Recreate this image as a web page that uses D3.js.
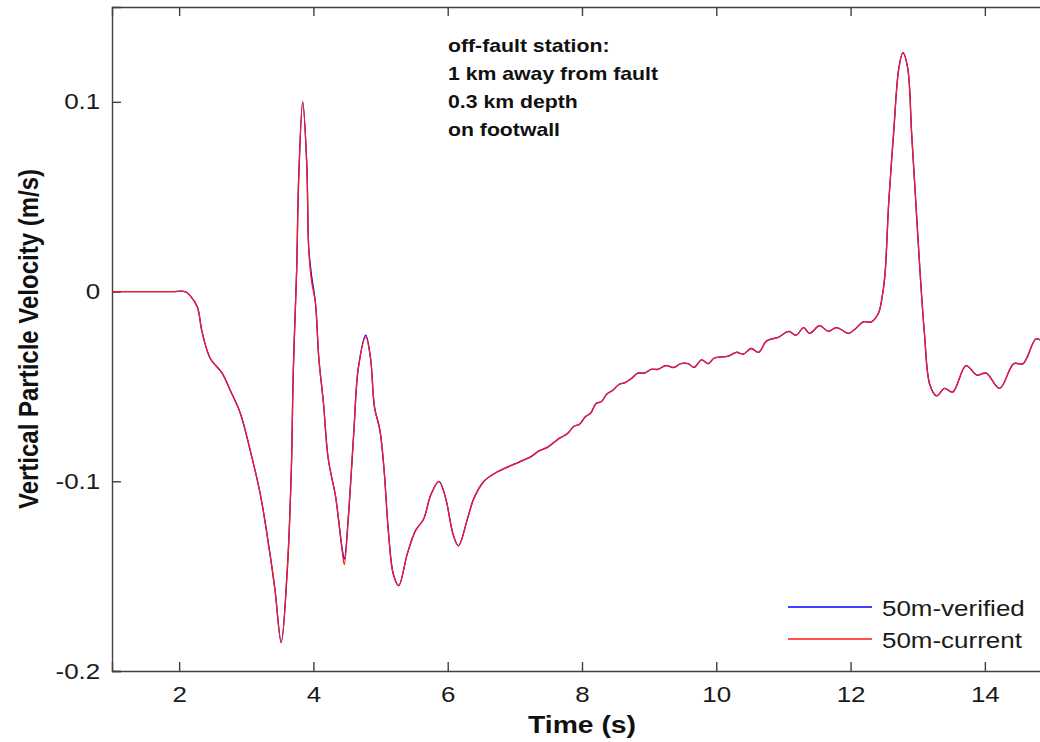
<!DOCTYPE html>
<html>
<head>
<meta charset="utf-8">
<script src="https://cdn.jsdelivr.net/npm/d3@7"></script>
<style>
  body { margin: 0; background: #fff; }
  svg { display: block; font-family: "Liberation Sans", Arial, sans-serif; }
</style>
</head>
<body>
<svg id="chart" width="1040" height="742"></svg>
<script>
// data
var times = [
  1.0, 1.5, 1.9, 2.09, 2.16, 2.27, 2.34, 2.46, 2.64, 2.76,
  2.91, 3.06, 3.21, 3.36, 3.43, 3.52, 3.61, 3.67, 3.70, 3.75,
  3.78, 3.84, 3.90, 3.93, 3.97, 4.03, 4.08, 4.15, 4.22, 4.33,
  4.37, 4.43, 4.46, 4.52, 4.60, 4.67, 4.78, 4.85, 4.91, 4.99,
  5.05, 5.12, 5.19, 5.27, 5.40, 5.52, 5.64, 5.75, 5.87, 5.97,
  6.08, 6.16, 6.30, 6.39, 6.54, 6.69, 6.99, 7.12, 7.24, 7.36,
  7.49, 7.60, 7.68, 7.78, 7.88, 7.96, 8.05, 8.13, 8.21, 8.29,
  8.37, 8.46, 8.55, 8.64, 8.73, 8.83, 8.93, 9.03, 9.13, 9.25,
  9.37, 9.47, 9.58, 9.67, 9.78, 9.88, 9.97, 10.18, 10.30, 10.40,
  10.52, 10.63, 10.75, 10.93, 11.08, 11.19, 11.30, 11.39, 11.54, 11.67,
  11.79, 11.97, 12.06, 12.19, 12.31, 12.42, 12.46, 12.51, 12.57, 12.64,
  12.72, 12.78, 12.85, 12.91, 12.97, 13.03, 13.10, 13.18, 13.28, 13.40,
  13.52, 13.72, 13.88, 14.02, 14.22, 14.43, 14.57, 14.76, 14.85
];

var verifiedVel = [
  0, 0, 0, 0, -0.002, -0.008, -0.021, -0.035, -0.043, -0.052,
  -0.064, -0.084, -0.107, -0.140, -0.158, -0.185, -0.147, -0.095, -0.042, 0.011,
  0.059, 0.100, 0.068, 0.023, 0.009, -0.006, -0.035, -0.059, -0.088, -0.108,
  -0.119, -0.136, -0.141, -0.119, -0.075, -0.040, -0.023, -0.035, -0.061, -0.073,
  -0.093, -0.128, -0.149, -0.155, -0.138, -0.126, -0.120, -0.107, -0.100, -0.109,
  -0.128, -0.134, -0.119, -0.109, -0.100, -0.096, -0.091, -0.089, -0.087, -0.084,
  -0.082, -0.079, -0.077, -0.075, -0.071, -0.070, -0.066, -0.064, -0.059, -0.058,
  -0.054, -0.052, -0.049, -0.048, -0.046, -0.043, -0.043, -0.041, -0.041, -0.039,
  -0.040, -0.038, -0.038, -0.040, -0.036, -0.038, -0.035, -0.034, -0.032, -0.033,
  -0.030, -0.032, -0.026, -0.024, -0.021, -0.023, -0.019, -0.022, -0.018, -0.021,
  -0.019, -0.022, -0.020, -0.016, -0.016, -0.011, -0.005, 0.008, 0.048, 0.083,
  0.118, 0.126, 0.118, 0.083, 0.048, 0.013, -0.022, -0.049, -0.055, -0.051,
  -0.053, -0.039, -0.044, -0.043, -0.051, -0.038, -0.038, -0.025, -0.026
];

var currentVel = [
  0, 0, 0, 0, -0.002, -0.008, -0.021, -0.035, -0.043, -0.052,
  -0.064, -0.084, -0.107, -0.140, -0.158, -0.185, -0.147, -0.095, -0.042, 0.011,
  0.059, 0.100, 0.068, 0.023, 0.006, -0.006, -0.035, -0.059, -0.088, -0.108,
  -0.119, -0.137, -0.144, -0.119, -0.075, -0.040, -0.024, -0.035, -0.061, -0.073,
  -0.093, -0.128, -0.149, -0.155, -0.138, -0.126, -0.120, -0.107, -0.100, -0.109,
  -0.128, -0.134, -0.119, -0.109, -0.100, -0.096, -0.091, -0.089, -0.087, -0.084,
  -0.082, -0.079, -0.077, -0.075, -0.071, -0.070, -0.066, -0.064, -0.059, -0.058,
  -0.054, -0.052, -0.049, -0.048, -0.046, -0.043, -0.043, -0.041, -0.041, -0.039,
  -0.040, -0.038, -0.038, -0.040, -0.036, -0.038, -0.035, -0.034, -0.032, -0.033,
  -0.030, -0.032, -0.026, -0.024, -0.021, -0.023, -0.019, -0.022, -0.018, -0.021,
  -0.019, -0.022, -0.020, -0.016, -0.016, -0.011, -0.005, 0.008, 0.048, 0.083,
  0.118, 0.126, 0.118, 0.083, 0.048, 0.013, -0.022, -0.049, -0.055, -0.051,
  -0.053, -0.039, -0.044, -0.043, -0.051, -0.038, -0.038, -0.025, -0.026
];

var xTicks = [2, 4, 6, 8, 10, 12, 14];
var yTicks = [-0.2, -0.1, 0, 0.1];
var yTickLabels = ["-0.2", "-0.1", "0", "0.1"];
var seriesNames = ["50m-verified", "50m-current"];
var seriesColors = ["#0000ff", "#ff1a1a"];
var noteLines = ["off-fault station:", "1 km away from fault", "0.3 km depth", "on footwall"];

var svg = d3.select("#chart");
var margin = {left: 112, top: 7};
var plotW = 940, plotH = 664;
var stretch = 1.18;   // the source picture is a bit wider than tall

var x = d3.scaleLinear().domain([1, 15]).range([0, plotW]);
var y = d3.scaleLinear().domain([-0.2, 0.15]).range([plotH, 0]);

var g = svg.append("g").attr("transform", "translate(" + margin.left + "," + margin.top + ")");

g.append("clipPath").attr("id", "clip")
  .append("rect").attr("width", plotW).attr("height", plotH);

// axes
var axisColor = "#404040";

var xAxisBottom = g.append("g").attr("transform", "translate(0," + plotH + ")")
  .call(d3.axisBottom(x).tickValues(xTicks).tickSize(-9).tickPadding(15).tickFormat(d3.format("d")));
var xAxisTop = g.append("g")
  .call(d3.axisTop(x).tickValues(xTicks).tickSize(-9).tickFormat(""));
var yAxisLeft = g.append("g")
  .call(d3.axisLeft(y).tickValues(yTicks).tickSize(-9).tickPadding(10)
    .tickFormat(function(d, i) { return yTickLabels[i]; }));

[xAxisBottom, xAxisTop, yAxisLeft].forEach(function(a) {
  a.select(".domain").attr("stroke", axisColor).attr("stroke-width", 1.4);
  a.selectAll(".tick line").attr("stroke", axisColor).attr("stroke-width", 1.4);
  a.selectAll(".tick text")
    .attr("fill", "#1a1a1a")
    .style("font-size", "22px")
    .attr("transform", "scale(" + stretch + ",1)");
});

// lines
var line = d3.line()
  .x(function(d) { return x(d[0]); })
  .y(function(d) { return y(d[1]); })
  .curve(d3.curveCatmullRom.alpha(0.5));

var series = [verifiedVel, currentVel];
series.forEach(function(vals, i) {
  g.append("path")
    .datum(times.map(function(t, j) { return [t, vals[j]]; }))
    .attr("clip-path", "url(#clip)")
    .attr("fill", "none")
    .attr("stroke", seriesColors[i])
    .attr("stroke-width", 1.3)
    .attr("d", line);
});

// annotation
noteLines.forEach(function(s, i) {
  svg.append("text")
    .attr("transform", "translate(448," + (52 + i * 28) + ") scale(" + stretch + ",1)")
    .style("font-size", "18px")
    .style("font-weight", "bold")
    .attr("fill", "#111")
    .text(s);
});

// legend
seriesNames.forEach(function(name, i) {
  var ly = 607 + i * 32;
  svg.append("line")
    .attr("x1", 788).attr("x2", 872)
    .attr("y1", ly).attr("y2", ly)
    .attr("stroke", seriesColors[i]).attr("stroke-width", 1.3);
  svg.append("text")
    .attr("transform", "translate(882," + (ly + 9) + ") scale(" + stretch + ",1)")
    .style("font-size", "22px")
    .attr("fill", "#1a1a1a")
    .text(name);
});

// axis titles
svg.append("text")
  .attr("transform", "translate(" + (margin.left + plotW / 2) + ",733) scale(" + stretch + ",1)")
  .attr("text-anchor", "middle")
  .style("font-size", "24px")
  .style("font-weight", "bold")
  .attr("fill", "#111")
  .text("Time (s)");

svg.append("text")
  .attr("transform", "translate(38," + (margin.top + plotH / 2) + ") scale(" + stretch + ",1) rotate(-90)")
  .attr("text-anchor", "middle")
  .style("font-size", "24px")
  .style("font-weight", "bold")
  .attr("fill", "#111")
  .text("Vertical Particle Velocity (m/s)");
</script>
</body>
</html>
